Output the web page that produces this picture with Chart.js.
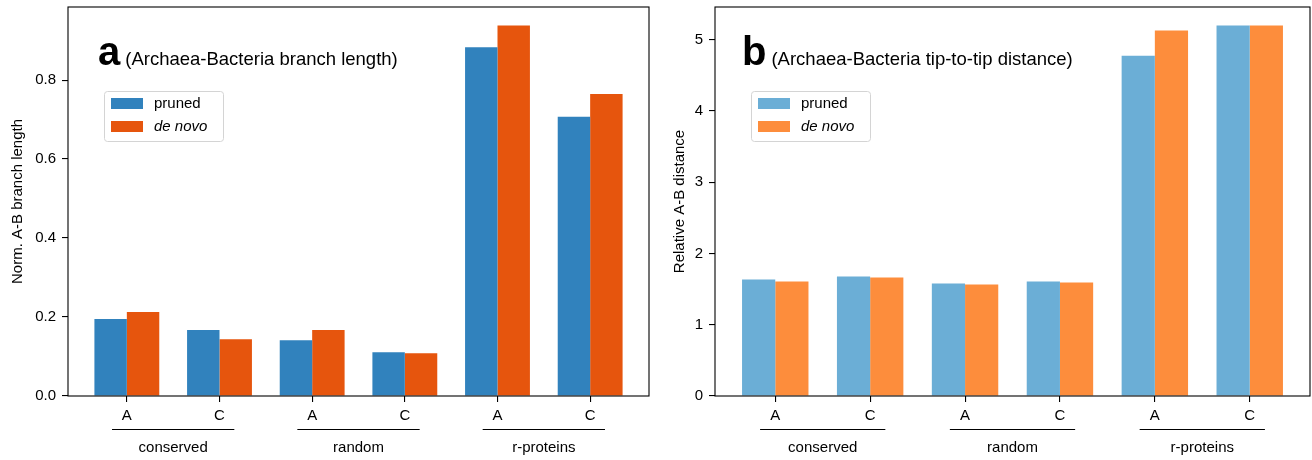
<!DOCTYPE html>
<html>
<head>
<meta charset="utf-8">
<script src="https://cdn.jsdelivr.net/npm/chart.js@4.4.1/dist/chart.umd.min.js"></script>
<style>
  html, body { margin: 0; padding: 0; background: #fff; }
  #wrap { position: relative; width: 1312px; height: 460px; }
  .panel { position: absolute; top: 0; height: 460px; }
  #panelA { left: 0; width: 660px; }
  #panelB { left: 660px; width: 652px; }
</style>
</head>
<body>
<div id="wrap">
  <div class="panel" id="panelA"><canvas id="chartA"></canvas></div>
  <div class="panel" id="panelB"><canvas id="chartB"></canvas></div>
</div>
<script>
// --- Data ---
const catLabels = ['A', 'C', 'A', 'C', 'A', 'C'];
const groupLabels = ['conserved', 'random', 'r-proteins'];
const seriesNames = ['pruned', 'de novo'];

const branchPruned = [0.195, 0.167, 0.141, 0.111, 0.883, 0.707];
const branchDeNovo = [0.213, 0.144, 0.167, 0.108, 0.938, 0.765];
const branchTicks = [0, 0.2, 0.4, 0.6, 0.8];

const tipPruned = [1.634, 1.676, 1.577, 1.606, 4.775, 5.197];
const tipDeNovo = [1.606, 1.662, 1.563, 1.592, 5.127, 5.197];
const tipTicks = [0, 1, 2, 3, 4, 5];

const FONT = "'Liberation Sans', Arial, sans-serif";
Chart.defaults.font.family = FONT;
Chart.defaults.color = '#000';

// --- Decorations: frame, panel title, legend, group brackets ---
const panelDecor = {
    id: 'panelDecor',
    afterDraw(chart, args, opts) {
        const ctx = chart.ctx;
        const area = chart.chartArea;
        const xs = chart.scales.x;

        ctx.save();

        // frame
        ctx.strokeStyle = '#000';
        ctx.lineWidth = 1.1;
        ctx.strokeRect(area.left, area.top, area.right - area.left, area.bottom - area.top);

        // title letter + subtitle
        ctx.fillStyle = '#000';
        ctx.textBaseline = 'alphabetic';
        ctx.textAlign = 'left';
        const lx = area.left + opts.letterDx;
        ctx.font = `bold 40px ${FONT}`;
        ctx.fillText(opts.letter, lx, 65);
        const lw = ctx.measureText(opts.letter).width;
        ctx.font = `18.5px ${FONT}`;
        ctx.fillText(opts.subtitle, lx + lw + 5, 65);

        // legend
        const bx = area.left + 36, by = 91, bw = 119, bh = 50;
        ctx.beginPath();
        ctx.roundRect(bx + 0.5, by + 0.5, bw, bh, 3);
        ctx.fillStyle = 'rgba(255,255,255,0.8)';
        ctx.fill();
        ctx.strokeStyle = '#d4d4d4';
        ctx.lineWidth = 1;
        ctx.stroke();
        chart.data.datasets.forEach((ds, i) => {
            const y = by + 7 + i * 23;
            ctx.fillStyle = ds.backgroundColor;
            ctx.fillRect(bx + 7, y, 32, 11);
            ctx.fillStyle = '#000';
            ctx.textBaseline = 'middle';
            ctx.font = (i === 1 ? 'italic ' : '') + `15px ${FONT}`;
            ctx.fillText(ds.label, bx + 50, y + 6);
        });

        // group brackets under the x ticks
        ctx.strokeStyle = '#000';
        ctx.lineWidth = 1.1;
        ctx.font = `15px ${FONT}`;
        ctx.textAlign = 'center';
        ctx.textBaseline = 'middle';
        groupLabels.forEach((g, i) => {
            const x1 = xs.getPixelForValue(2 * i - 0.16);
            const x2 = xs.getPixelForValue(2 * i + 1.16);
            const y = area.bottom + 33.5;
            ctx.beginPath();
            ctx.moveTo(x1, y);
            ctx.lineTo(x2, y);
            ctx.stroke();
            ctx.fillText(g, xs.getPixelForValue(2 * i + 0.5), area.bottom + 52);
        });

        ctx.restore();
    }
};

function makeChart(canvasId, cfg) {
    const toPoints = arr => arr.map((v, i) => ({ x: i, y: v }));

    return new Chart(document.getElementById(canvasId), {
        type: 'bar',
        data: {
            datasets: [
                { label: seriesNames[0], data: toPoints(cfg.pruned), backgroundColor: cfg.colors[0] },
                { label: seriesNames[1], data: toPoints(cfg.deNovo), backgroundColor: cfg.colors[1] }
            ]
        },
        options: {
            responsive: true,
            maintainAspectRatio: false,
            animation: false,
            layout: { padding: { top: 7, right: cfg.padRight, bottom: 0, left: 0 } },
            datasets: { bar: { categoryPercentage: 0.7, barPercentage: 1.0, borderWidth: 0 } },
            plugins: {
                legend: { display: false },
                tooltip: { enabled: false },
                panelDecor: { letter: cfg.letter, subtitle: cfg.subtitle, letterDx: cfg.letterDx }
            },
            scales: {
                x: {
                    type: 'linear',
                    offset: false,
                    min: -0.635,
                    max: 5.635,
                    afterBuildTicks: s => { s.ticks = catLabels.map((_, i) => ({ value: i })); },
                    afterFit: s => { s.height = 64; s.paddingLeft = 0; s.paddingRight = 0; },
                    grid: { offset: false, drawOnChartArea: false, drawTicks: true, tickLength: 6, color: '#000', lineWidth: 1.1 },
                    border: { display: false },
                    ticks: {
                        autoSkip: false,
                        maxRotation: 0,
                        padding: 5,
                        font: { size: 15 },
                        callback: v => catLabels[v]
                    }
                },
                y: {
                    min: 0,
                    max: cfg.yMax,
                    afterBuildTicks: s => { s.ticks = cfg.ticks.map(v => ({ value: v })); },
                    afterFit: s => { s.width = cfg.yWidth; s.paddingTop = 0; s.paddingBottom = 0; },
                    grid: { drawOnChartArea: false, drawTicks: true, tickLength: 6, color: '#000', lineWidth: 1.1 },
                    border: { display: false },
                    title: {
                        display: true,
                        text: cfg.yTitle,
                        font: { size: 15 },
                        padding: { top: cfg.titlePad, bottom: 0 }
                    },
                    ticks: {
                        padding: 6,
                        font: { size: 15 },
                        callback: v => cfg.fmt(v)
                    }
                }
            }
        },
        plugins: [panelDecor]
    });
}

makeChart('chartA', {
    pruned: branchPruned,
    deNovo: branchDeNovo,
    colors: ['#3182bd', '#e6550d'],
    ticks: branchTicks,
    yMax: 0.985,
    fmt: v => v.toFixed(1),
    yTitle: 'Norm. A-B branch length',
    letter: 'a',
    subtitle: '(Archaea-Bacteria branch length)',
    letterDx: 30,
    yWidth: 68,
    padRight: 11,
    titlePad: 9
});

makeChart('chartB', {
    pruned: tipPruned,
    deNovo: tipDeNovo,
    colors: ['#6baed6', '#fd8d3c'],
    ticks: tipTicks,
    yMax: 5.458,
    fmt: v => String(v),
    yTitle: 'Relative A-B distance',
    letter: 'b',
    subtitle: '(Archaea-Bacteria tip-to-tip distance)',
    letterDx: 27,
    yWidth: 55,
    padRight: 2,
    titlePad: 11
});
</script>
</body>
</html>
